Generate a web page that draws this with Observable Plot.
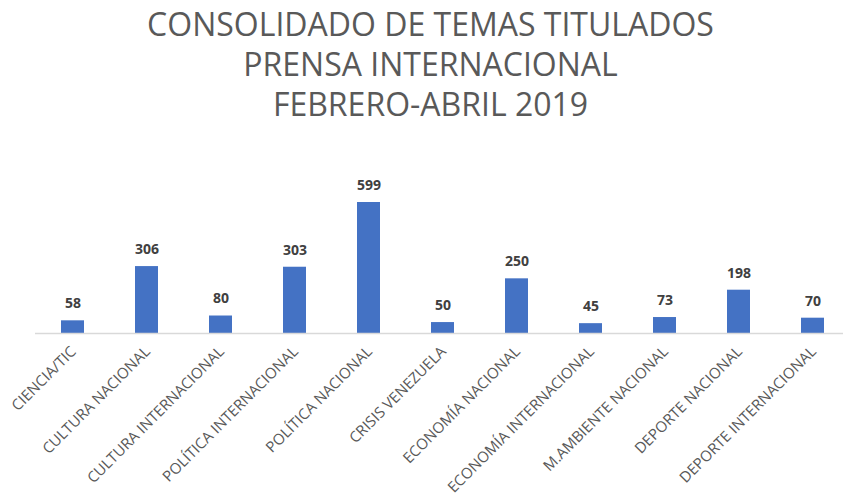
<!DOCTYPE html>
<html>
<head>
<meta charset="utf-8">
<script src="https://cdn.jsdelivr.net/npm/d3@7"></script>
<script src="https://cdn.jsdelivr.net/npm/@observablehq/plot@0.6"></script>
<style>
  body { margin: 0; background: #fff; }
  #title { height: 130px; box-sizing: border-box; padding-top: 4px; padding-left: 18px; text-align: center;
    font-family: "Open Sans", sans-serif; font-weight: 400; font-size: 32px; line-height: 40px; color: #595959; }
</style>
</head>
<body>
<div id="title">CONSOLIDADO DE TEMAS TITULADOS<br>PRENSA INTERNACIONAL<br>FEBRERO-ABRIL 2019</div>
<div id="chart"></div>
<script>
const categories = ["CIENCIA/TIC", "CULTURA NACIONAL", "CULTURA INTERNACIONAL", "POLÍTICA INTERNACIONAL",
  "POLÍTICA NACIONAL", "CRISIS VENEZUELA", "ECONOMÍA NACIONAL", "ECONOMÍA INTERNACIONAL",
  "M.AMBIENTE NACIONAL", "DEPORTE NACIONAL", "DEPORTE INTERNACIONAL"];
const values = [58, 306, 80, 303, 599, 50, 250, 45, 73, 198, 70];

const data = categories.map((c, i) => ({category: c, value: values[i]}));

const chart = Plot.plot({
  width: 843,
  height: 366,
  marginTop: 72,
  marginBottom: 163,
  marginLeft: 35,
  marginRight: -7,
  style: {fontFamily: "'Open Sans', sans-serif", fontSize: "13px", background: "#fff", overflow: "visible"},
  x: {domain: categories, paddingInner: 0.69, paddingOuter: 0.345, axis: null},
  y: {domain: [0, 599], axis: null},
  marks: [
    Plot.barY(data, {x: "category", y: "value", fill: "#4472C4"}),
    Plot.ruleY([0], {stroke: "#d9d9d9", strokeWidth: 1.5}),
    Plot.text(data, {x: "category", y: "value", text: d => String(d.value), dy: -17,
      fontSize: 14, fontWeight: "bold", fill: "#404040"}),
    Plot.text(categories, {x: d => d, text: d => d, frameAnchor: "bottom", rotate: -45,
      textAnchor: "end", dx: 4, dy: 19, fontSize: 15, fill: "#595959"})
  ]
});
document.getElementById("chart").appendChild(chart);
</script>
</body>
</html>
